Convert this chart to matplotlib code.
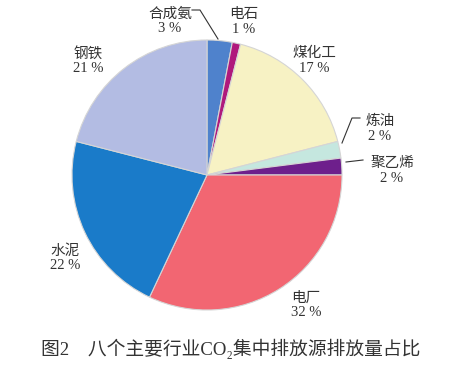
import matplotlib
matplotlib.use('Agg')
import matplotlib.pyplot as plt

plt.rcParams['font.family'] = ['Liberation Serif', 'Noto Sans CJK SC', 'DejaVu Sans']

names = ['合成氨', '电石', '煤化工', '炼油', '聚乙烯', '电厂', '水泥', '钢铁']
shares = [3, 1, 17, 2, 2, 32, 22, 21]
colors = ['#4f82cc', '#b0197c', '#f7f2c4', '#c5e7df', '#6e1f8c', '#f26672', '#1a7bc9', '#b3bce3']

# label positions in pixels (x, y from top)
label_pos = [(170, 21), (244, 22), (314, 61), (380, 129), (392, 171), (306, 305), (65, 258), (88, 61)]

fig = plt.figure(figsize=(4.76, 3.70), dpi=100)
ax = fig.add_axes([0, 0, 1, 1])
ax.pie(shares, colors=colors, startangle=90, counterclock=False,
       center=(207, 370 - 175), radius=135, frame=True,
       wedgeprops=dict(edgecolor='#d5d5d5', linewidth=0.8))
ax.set_xlim(0, 476)
ax.set_ylim(0, 370)
ax.set_aspect('equal')
ax.axis('off')

for n, s, (px, py) in zip(names, shares, label_pos):
    ax.text(px, 370 - py, f'{n}\n{s} %', ha='center', va='center',
            fontsize=10.5, color='#333333', linespacing=1.15)

# leader lines
ax.plot([192, 200, 218], [370 - 10, 370 - 10, 370 - 39], color='#333333', lw=0.8)
ax.plot([342, 352, 360], [370 - 143, 370 - 118, 370 - 118], color='#333333', lw=0.8)
ax.plot([346, 363], [370 - 162, 370 - 160], color='#333333', lw=0.8)

ax.text(231, 370 - 349, '图2　八个主要行业CO₂集中排放源排放量占比', ha='center', va='center',
        fontsize=13.5, color='#333333')

plt.savefig('out.png', dpi=100)
